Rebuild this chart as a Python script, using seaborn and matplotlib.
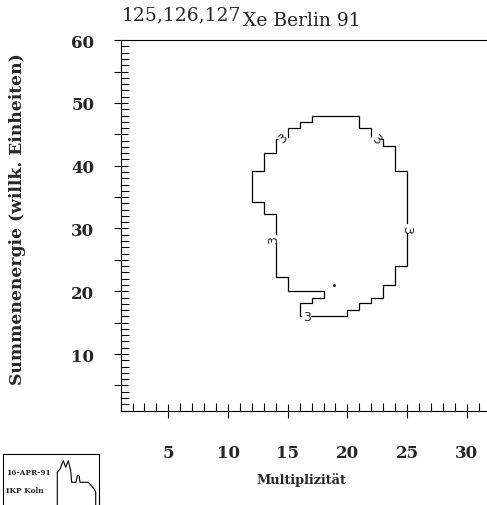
import numpy as np
import pandas as pd
import matplotlib
matplotlib.use("Agg")
import matplotlib.pyplot as plt
import seaborn as sns
from matplotlib.ticker import MultipleLocator

# ---- data ----
contour_x = [17, 21, 21, 22, 22, 23, 23, 24, 24, 25, 25, 24, 24, 23, 23, 22, 22, 21, 21, 20, 20,
             16, 16, 17, 17, 18, 18, 15, 15, 14, 14, 13, 13, 12, 12, 13, 13, 14, 14, 15, 15, 16, 16, 17, 17]
contour_y = [48, 48, 46, 46, 44.3, 44.3, 43.2, 43.2, 39.1, 39.1, 24.1, 24.1, 21, 21, 19, 19, 18.1, 18.1, 17, 17, 16,
             16, 18.1, 18.1, 19, 19, 20, 20, 22.2, 22.2, 32.3, 32.3, 34.2, 34.2, 39.1, 39.1, 42, 42, 44.3, 44.3, 46, 46, 47, 47, 48]
label_x = [14.6, 22.4, 13.8, 25.0, 16.6]
label_y = [44.4, 44.3, 28.3, 30.0, 15.9]
label_rot = [40, -40, 90, -90, 0]
level_text = "3"
dot_x = [18.9]
dot_y = [21.0]

x_ticks = [5, 10, 15, 20, 25, 30]
x_ticklabels = ["5", "10", "15", "20", "25", "30"]
y_major = [5, 10, 15, 20, 25, 30, 35, 40, 45, 50, 55, 60]
y_ticklabels = ["", "10", "", "20", "", "30", "", "40", "", "50", "", "60"]

title_iso = "125,126,127"
title_rest = "Xe Berlin 91"
xlabel = "Multiplizität"
ylabel = "Summenenergie (willk. Einheiten)"
logo_date = "16-APR-91"
logo_inst = "IKP Koln"
cath_x = [57.3, 57.3, 60, 63.3, 65.7, 68.3, 70.7, 71.7, 76, 77.3, 79, 80, 88.3, 94.3, 95.7, 95.7]
cath_y = [506, 473.3, 470, 461.7, 468.3, 461.7, 471.7, 483.3, 483.3, 476.7, 476.7, 483.3, 483.3, 490, 493.3, 508]

# ---- style ----
sns.set_style("ticks")
plt.rcParams['font.family'] = ['DejaVu Serif']

W, H = 487, 506
fig = plt.figure(figsize=(W / 100, H / 100), dpi=100)


def px(l, t, r, b):
    return [l / W, 1 - b / H, (r - l) / W, (b - t) / H]


ax = fig.add_axes(px(120.6, 41.2, 490.6, 411.5))
df = pd.DataFrame({"x": contour_x, "y": contour_y})
sns.lineplot(data=df, x="x", y="y", sort=False, estimator=None, color="black",
             lw=0.9, ax=ax)
ax.plot(dot_x, dot_y, marker="s", ms=0.9, color="black", ls="none")
for lx, ly, r in zip(label_x, label_y, label_rot):
    ax.text(lx, ly, level_text, rotation=r, ha="center", va="center", fontsize=9,
            family="DejaVu Sans", rotation_mode="anchor",
            bbox=dict(fc="white", ec="none", pad=0.3))

ax.set_xlim(1, 32)
ax.set_ylim(1, 60)
ax.set_xticks(x_ticks)
ax.set_xticklabels(x_ticklabels, fontsize=12, fontweight="bold")
ax.xaxis.set_minor_locator(MultipleLocator(1))
ax.set_yticks(y_major)
ax.set_yticklabels(y_ticklabels, fontsize=12, fontweight="bold")
ax.yaxis.set_minor_locator(MultipleLocator(1))
ax.tick_params(which="major", direction="inout", length=10, width=0.8, color="black")
ax.tick_params(axis="x", which="major", pad=19)
ax.tick_params(axis="y", which="major", pad=14)
ax.tick_params(which="minor", direction="in", length=5.5, width=0.8, color="black")
ax.set_xlabel("")
ax.set_ylabel("")
for s in ["left", "bottom", "top"]:
    ax.spines[s].set_linewidth(0.8)
    ax.spines[s].set_color("black")
ax.spines["right"].set_visible(False)

# title: isotope numbers raised, followed directly by the rest
t1 = fig.text(121.7 / W, 1 - 20 / H, title_iso, fontsize=13.5, va="baseline", ha="left")
fig.canvas.draw()
bb = t1.get_window_extent(renderer=fig.canvas.get_renderer())
fig.text(bb.x1 / W + 1.5 / W, 1 - 26.5 / H, title_rest, fontsize=13.5, va="baseline", ha="left")

# axis labels
fig.text(17.5 / W, 1 - 219 / H, ylabel, rotation=90, ha="center", va="center",
         fontsize=12.3, fontweight="bold")
fig.text(301.5 / W, 1 - 480 / H, xlabel, ha="center", va="center",
         fontsize=9.3, fontweight="bold")

# logo
lax = fig.add_axes(px(2.7, 455, 99.3, 510))
lax.set_xlim(2.7, 99.3)
lax.set_ylim(510, 455)
lax.plot(cath_x, cath_y, color="black", lw=0.8)
lax.text(6.5, 473, logo_date, fontsize=5.4, fontweight="bold", va="center", ha="left")
lax.text(6.5, 491.5, logo_inst, fontsize=5.4, fontweight="bold", va="center", ha="left")
lax.set_xticks([])
lax.set_yticks([])
for s in lax.spines.values():
    s.set_linewidth(0.8)
    s.set_color("black")

fig.savefig("out.png", dpi=100)
